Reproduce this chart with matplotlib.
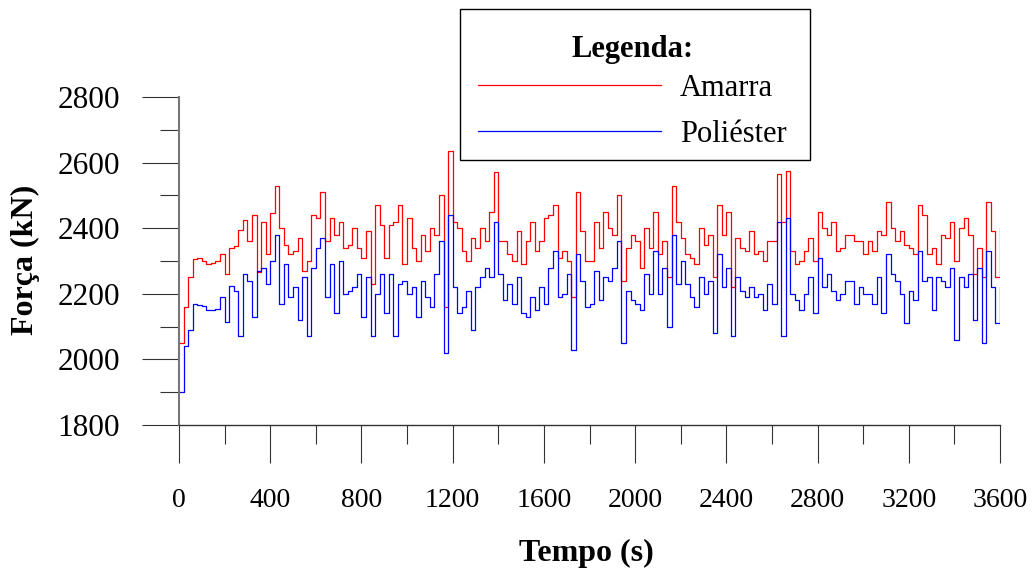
import matplotlib
matplotlib.use('Agg')
import matplotlib.pyplot as plt
import matplotlib.patches as mpatches
from matplotlib.ticker import MultipleLocator
import numpy as np

plt.rcParams['font.family'] = 'serif'
plt.rcParams['font.serif'] = ['Liberation Serif', 'DejaVu Serif']

# sampling step (s) used when reading the curves off the original chart
DT = 20

# Força na amarra (kN), t = 0 ... 3600 s
amarra = [
    2050, 2160, 2250, 2305, 2310, 2300, 2290, 2295, 2300, 2320,
    2260, 2340, 2345, 2395, 2425, 2360, 2440, 2265, 2420, 2320,
    2445, 2530, 2400, 2350, 2320, 2330, 2370, 2270, 2300, 2440,
    2430, 2510, 2360, 2430, 2380, 2420, 2340,
    2350, 2400, 2340, 2310, 2390, 2230, 2470, 2410, 2310, 2410,
    2420, 2470, 2290, 2430, 2340, 2300, 2380, 2330, 2400, 2380,
    2500, 2160, 2635, 2420, 2400, 2330, 2300, 2370, 2340, 2400,
    2360, 2450, 2570, 2360, 2360, 2320,
    2300, 2390, 2290, 2360, 2420, 2330, 2360, 2430, 2440, 2470,
    2310, 2330, 2300, 2190, 2510, 2390, 2300, 2300, 2420, 2340,
    2450, 2400, 2380, 2500, 2240, 2340, 2380, 2360, 2280, 2400,
    2340, 2450, 2320, 2360, 2250, 2530,
    2420, 2370, 2320, 2310, 2290, 2400, 2350, 2380, 2250, 2470,
    2380, 2450, 2220, 2370, 2340, 2330, 2390, 2320, 2330, 2300,
    2360, 2360, 2565, 2420, 2575, 2330, 2290, 2300, 2330, 2370,
    2300, 2450, 2400, 2380, 2420, 2330,
    2340, 2380, 2380, 2360, 2360, 2320, 2360, 2330, 2390, 2380,
    2480, 2400, 2360, 2390, 2350, 2340, 2320, 2470, 2440, 2320,
    2340, 2290, 2380, 2370, 2420, 2300, 2400, 2430, 2380, 2260,
    2340, 2250, 2480, 2390, 2250, 2400,
]

# Força no cabo de poliéster (kN), t = 0 ... 3600 s
poliester = [
    1900, 2040, 2090, 2170, 2165, 2162, 2152, 2150, 2155, 2190,
    2115, 2225, 2210, 2070, 2260, 2240, 2130, 2270, 2280, 2230,
    2300, 2380, 2170, 2290, 2190, 2220, 2120, 2250, 2070, 2280,
    2340, 2370, 2190, 2290, 2140, 2300, 2200,
    2210, 2220, 2260, 2130, 2250, 2070, 2200, 2260, 2140, 2260,
    2070, 2230, 2240, 2200, 2220, 2130, 2240, 2190, 2160, 2260,
    2360, 2020, 2440, 2220, 2140, 2160, 2210, 2090, 2220, 2250,
    2280, 2250, 2420, 2260, 2180, 2230,
    2170, 2250, 2140, 2130, 2190, 2150, 2220, 2170, 2280, 2330,
    2190, 2200, 2260, 2030, 2320, 2240, 2160, 2170, 2270, 2180,
    2250, 2240, 2280, 2360, 2050, 2210, 2180, 2170, 2150, 2260,
    2200, 2330, 2200, 2280, 2100, 2380,
    2230, 2300, 2230, 2190, 2160, 2250, 2200, 2240, 2080, 2320,
    2220, 2280, 2070, 2250, 2210, 2190, 2220, 2190, 2200, 2150,
    2230, 2170, 2420, 2070, 2430, 2200, 2180, 2150, 2200, 2250,
    2140, 2310, 2220, 2260, 2210, 2180,
    2200, 2240, 2240, 2170, 2220, 2200, 2200, 2170, 2250, 2140,
    2320, 2260, 2240, 2200, 2110, 2210, 2180, 2330, 2240, 2250,
    2150, 2250, 2240, 2220, 2280, 2060, 2250, 2220, 2260, 2120,
    2280, 2050, 2330, 2220, 2110, 2220,
]

tempo = np.arange(len(amarra)) * DT

W, H = 1036, 574
fig = plt.figure(figsize=(W / 100, H / 100), dpi=100)
fig.patch.set_facecolor('white')
ax = fig.add_axes([179 / W, 1 - 425 / H, (1000 - 179) / W, (425 - 97) / H])

l1, = ax.plot(tempo, amarra, color='#ff0000', lw=0.9, drawstyle='steps-post')
l2, = ax.plot(tempo, poliester, color='#0000ff', lw=0.9, drawstyle='steps-post')

ax.set_xlim(0, 3600)
ax.set_ylim(1800, 2800)
ax.xaxis.set_major_locator(MultipleLocator(400))
ax.xaxis.set_minor_locator(MultipleLocator(200))
ax.yaxis.set_major_locator(MultipleLocator(200))
ax.yaxis.set_minor_locator(MultipleLocator(100))

ax.spines['top'].set_visible(False)
ax.spines['right'].set_visible(False)
ax.spines['left'].set_color('#777777')
ax.spines['left'].set_linewidth(1.5)
ax.spines['bottom'].set_color('#333333')
ax.spines['bottom'].set_linewidth(1.0)

ax.tick_params(axis='y', which='major', direction='out', length=26.5, width=0.8,
               color='#333333', labelsize=22.5, pad=16)
ax.tick_params(axis='y', which='minor', direction='out', length=13.5, width=0.8,
               color='#333333')
ax.tick_params(axis='x', which='major', direction='out', length=27.5, width=0.8,
               color='#333333', labelsize=20, pad=18)
ax.tick_params(axis='x', which='minor', direction='out', length=13.5, width=0.8,
               color='#333333')

fig.text(25 / W, 1 - 260 / H, 'Força (kN)', rotation=90, ha='center',
         va='center', fontsize=23, fontweight='bold')
fig.text(586 / W, 1 - 553 / H, 'Tempo (s)', ha='center', va='center',
         fontsize=23, fontweight='bold')

# legend box (white, covers the curves) drawn separately from the entries
box = mpatches.Rectangle((460 / W, 1 - 160 / H), 350 / W, 151 / H,
                         transform=fig.transFigure, facecolor='white',
                         edgecolor='black', linewidth=1.0, zorder=4)
fig.add_artist(box)

leg = fig.legend(handles=[l1, l2], labels=['Amarra', 'Poliéster'],
                 title='Legenda:', loc='upper left',
                 bbox_to_anchor=(478 / W, 1 - 35 / H),
                 fontsize=22, title_fontproperties={'weight': 'bold', 'size': 22},
                 frameon=False, handlelength=6.0, handletextpad=0.6,
                 labelspacing=0.555, borderpad=0, borderaxespad=0)
leg.set_zorder(5)
# tighter gap between the title and the first entry (points)
leg._legend_box.sep = 7.2

fig.savefig('out.png', dpi=100, facecolor='white')
